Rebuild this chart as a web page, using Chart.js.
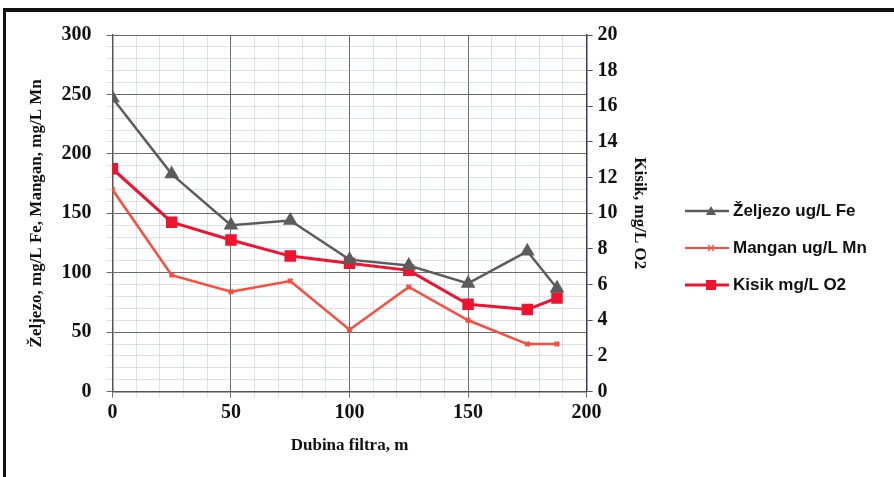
<!DOCTYPE html>
<html>
<head>
<meta charset="utf-8">
<script src="https://cdn.jsdelivr.net/npm/chart.js@4/dist/chart.umd.min.js"></script>
<style>
  html,body{margin:0;padding:0;background:#fff;}
  #wrap{position:relative;width:894px;height:477px;}
  #frame{position:absolute;left:3px;top:8px;right:0;bottom:0;border-top:4px solid #111;border-left:3px solid #111;pointer-events:none;}
  #legend{position:absolute;left:685px;top:192px;font:bold 17px 'Liberation Sans', Arial, sans-serif;color:#111;}
  #legend div{height:37px;display:flex;align-items:center;}
  #legend canvas{margin-right:4px;}
</style>
</head>
<body>
<div id="wrap">
  <canvas id="myChart" width="894" height="477"></canvas>
  <div id="legend"></div>
  <div id="frame"></div>
</div>
<script>
// depth of filter (m)
const depth = [0, 25, 50, 75, 100, 125, 150, 175, 187.5];
// Zeljezo ug/L Fe
const zeljezo = [247, 183, 140, 144, 111, 106, 91, 118, 87];
// Mangan ug/L Mn
const mangan = [170, 98, 84, 93, 52, 88, 60, 40, 40];
// Kisik mg/L O2 (right axis)
const kisik = [12.5, 9.5, 8.5, 7.6, 7.2, 6.8, 4.9, 4.6, 5.25];

const seriesNames = ['Željezo ug/L Fe', 'Mangan ug/L Mn', 'Kisik mg/L O2'];
const xTitle = 'Dubina filtra, m';
const yTitle = 'Željezo, mg/L Fe, Mangan, mg/L Mn';
const y2Title = 'Kisik, mg/L O2';

const serif = "'Liberation Serif', 'DejaVu Serif', serif";

const pts = (ys) => depth.map((x, i) => ({x: x, y: ys[i]}));

// legend icon: line with marker in the middle
const legendIcon = (color, style, lw) => {
  const c = document.createElement('canvas');
  c.width = 44; c.height = 14;
  const g = c.getContext('2d');
  g.strokeStyle = color; g.lineWidth = lw;
  g.beginPath(); g.moveTo(0, 7); g.lineTo(44, 7); g.stroke();
  g.fillStyle = color;
  if (style === 'triangle') {
    g.beginPath(); g.moveTo(26, 2); g.lineTo(31, 11); g.lineTo(21, 11); g.closePath(); g.fill();
  } else if (style === 'rect') {
    g.fillRect(21, 2, 10, 10);
  } else {
    g.lineWidth = 1.2;
    g.beginPath(); g.moveTo(23, 4); g.lineTo(29, 10); g.moveTo(29, 4); g.lineTo(23, 10); g.stroke();
  }
  return c;
};

const colors = ['#5c5c5c', '#ff4b3c', '#ee1430'];
const markers = ['triangle', 'cross', 'rect'];
const widths = [2.5, 2, 3];

// html legend
const legendEl = document.getElementById('legend');
seriesNames.forEach((name, i) => {
  const row = document.createElement('div');
  row.appendChild(legendIcon(colors[i], markers[i], widths[i]));
  const span = document.createElement('span');
  span.textContent = name;
  row.appendChild(span);
  legendEl.appendChild(row);
});

const gridCol = (ctx) => (ctx.tick && ctx.tick.value % 50 === 0) ? '#6a6a72' : 'rgba(170,180,215,0.4)';

new Chart(document.getElementById('myChart'), {
  type: 'line',
  data: {
    datasets: [
      {label: seriesNames[0], data: pts(zeljezo), yAxisID: 'y', borderColor: colors[0], backgroundColor: colors[0],
       borderWidth: 2.5, pointStyle: 'triangle', pointRadius: 6, tension: 0},
      {label: seriesNames[1], data: pts(mangan), yAxisID: 'y', borderColor: colors[1], backgroundColor: colors[1],
       borderWidth: 2.5, pointStyle: 'crossRot', pointRadius: 3, tension: 0},
      {label: seriesNames[2], data: pts(kisik), yAxisID: 'y2', borderColor: colors[2], backgroundColor: colors[2],
       borderWidth: 3, pointStyle: 'rect', pointRadius: 6, tension: 0}
    ]
  },
  options: {
    responsive: false,
    animation: false,
    layout: {padding: {left: 24, right: 236, top: 35, bottom: 17}},
    plugins: {
      legend: {display: false},
      tooltip: {enabled: false}
    },
    scales: {
      x: {
        type: 'linear', min: 0, max: 200,
        ticks: {stepSize: 10, color: '#111', font: {family: serif, size: 20, weight: 'bold'},
                callback: (v) => v % 50 === 0 ? v : '', maxRotation: 0, autoSkip: false},
        grid: {color: gridCol, tickLength: 6},
        border: {color: '#555', width: 1.5},
        title: {display: true, text: xTitle, color: '#111', font: {family: serif, size: 17, weight: 'bold'}, padding: {top: 8}}
      },
      y: {
        position: 'left', min: 0, max: 300,
        ticks: {stepSize: 10, padding: 15, color: '#111', font: {family: serif, size: 20, weight: 'bold'},
                callback: (v) => v % 50 === 0 ? v : '', autoSkip: false},
        grid: {color: gridCol, tickLength: 6},
        border: {color: '#555', width: 1.5},
        title: {display: true, text: yTitle, color: '#111', font: {family: serif, size: 17, weight: 'bold'}, padding: {top: 2, bottom: 0}}
      },
      y2: {
        position: 'right', min: 0, max: 20,
        ticks: {stepSize: 2, padding: 5, color: '#111', font: {family: serif, size: 20, weight: 'bold'}},
        grid: {drawOnChartArea: false, color: '#555', tickLength: 6},
        border: {color: '#3a3a6a', width: 1.5},
        title: {display: true, text: y2Title, color: '#111', font: {family: serif, size: 17, weight: 'bold'}, padding: {top: 8, bottom: 7}}
      }
    }
  }
});
</script>
</body>
</html>
